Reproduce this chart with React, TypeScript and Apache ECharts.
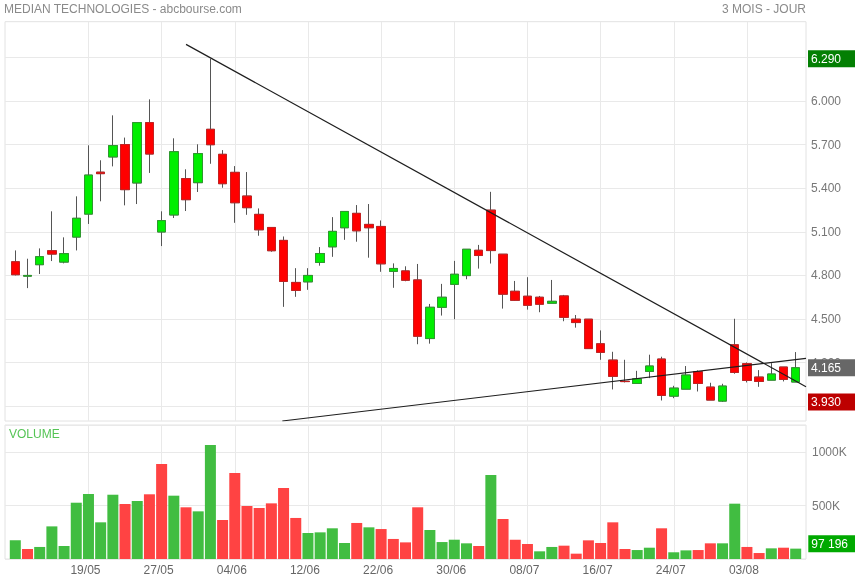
import React, { useEffect, useRef } from 'react';
import * as echarts from 'echarts';

const dates = [
  '11/05', '12/05', '13/05', '14/05', '15/05', '18/05', '19/05', '20/05', '21/05', '22/05', '25/05', '26/05', '27/05', '28/05', '29/05',
  '01/06', '02/06', '03/06', '04/06', '05/06', '08/06', '09/06', '10/06', '11/06', '12/06', '15/06', '16/06', '17/06', '18/06', '19/06', '22/06', '23/06', '24/06', '25/06', '26/06', '29/06', '30/06',
  '01/07', '02/07', '03/07', '06/07', '07/07', '08/07', '09/07', '10/07', '13/07', '14/07', '15/07', '16/07', '17/07', '20/07', '21/07', '22/07', '23/07', '24/07', '27/07', '28/07', '29/07', '30/07', '31/07',
  '03/08', '04/08', '05/08', '06/08', '07/08',
];

const opens = [
  4.894, 4.795, 4.874, 4.970, 4.892, 5.064, 5.222, 5.510, 5.615, 5.700, 5.436, 5.851, 5.099, 5.216, 5.466, 5.438,
  5.805, 5.633, 5.509, 5.346, 5.220, 5.130, 5.041, 4.752, 4.756, 4.889, 4.997, 5.128, 5.227, 5.151, 5.137, 4.828,
  4.831, 4.769, 4.366, 4.581, 4.739, 4.799, 4.973, 5.249, 4.946, 4.691, 4.657, 4.650, 4.609, 4.659, 4.499, 4.499,
  4.330, 4.218, 4.072, 4.057, 4.140, 4.225, 3.970, 4.018, 4.138, 4.032, 3.936, 4.323, 4.193, 4.101, 4.080, 4.170, 4.067,
];
const closes = [
  4.805, 4.800, 4.929, 4.947, 4.950, 5.193, 5.490, 5.500, 5.693, 5.390, 5.851, 5.635, 5.177, 5.651, 5.321, 5.638,
  5.699, 5.431, 5.300, 5.266, 5.114, 4.970, 4.759, 4.697, 4.800, 4.951, 5.103, 5.240, 5.107, 5.128, 4.880, 4.848,
  4.767, 4.382, 4.581, 4.650, 4.808, 4.980, 4.937, 4.971, 4.671, 4.629, 4.595, 4.602, 4.622, 4.512, 4.476, 4.297,
  4.271, 4.106, 4.070, 4.089, 4.177, 3.975, 4.025, 4.115, 4.057, 3.943, 4.039, 4.133, 4.078, 4.071, 4.122, 4.085, 4.165,
];
const lows = [
  4.800, 4.713, 4.810, 4.899, 4.883, 4.972, 5.154, 5.310, 5.550, 5.282, 5.291, 5.505, 5.002, 5.195, 5.243, 5.374,
  5.568, 5.403, 5.162, 5.217, 5.073, 4.963, 4.584, 4.653, 4.701, 4.867, 4.928, 5.045, 5.032, 4.922, 4.825, 4.715,
  4.760, 4.327, 4.331, 4.524, 4.499, 4.774, 4.847, 4.882, 4.572, 4.625, 4.565, 4.547, 4.609, 4.485, 4.441, 4.297,
  4.220, 4.016, 4.064, 4.057, 4.094, 3.940, 3.956, 4.018, 4.002, 3.943, 3.930, 4.124, 4.064, 4.034, 4.080, 4.071, 4.067,
];
const highs = [
  4.972, 4.915, 4.986, 5.241, 5.062, 5.344, 5.695, 5.592, 5.901, 5.748, 5.851, 6.011, 5.241, 5.743, 5.530, 5.702,
  6.290, 5.662, 5.552, 5.511, 5.261, 5.130, 5.068, 4.850, 4.850, 4.995, 5.201, 5.240, 5.284, 5.291, 5.178, 4.883,
  4.863, 4.879, 4.604, 4.742, 4.900, 4.980, 5.010, 5.375, 4.946, 4.762, 4.788, 4.659, 4.769, 4.666, 4.528, 4.499,
  4.422, 4.275, 4.220, 4.144, 4.255, 4.241, 4.041, 4.177, 4.147, 4.062, 4.055, 4.502, 4.202, 4.149, 4.197, 4.170, 4.273,
];
const volumes = [
  175000, 94000, 113000, 306000, 122000, 528000, 610000, 344000, 603000, 516000, 544000, 607000, 891000, 594000, 485000, 447000,
  1069000, 366000, 807000, 497000, 478000, 522000, 666000, 385000, 244000, 250000, 288000, 150000, 338000, 297000, 281000, 188000,
  156000, 485000, 272000, 159000, 181000, 147000, 122000, 788000, 375000, 181000, 141000, 72000, 113000, 125000, 50000, 175000,
  150000, 344000, 94000, 84000, 106000, 288000, 63000, 81000, 84000, 147000, 147000, 519000, 113000, 56000, 100000, 106000, 97196,
];

// trend lines in (candle index, price)
const trendUpper = [[14.0, 6.389], [64.845, 4.035]];
const trendLower = [[21.9, 3.799], [64.845, 4.23]];

// axis ranges
const PRICE_MIN = 3.799;
const PRICE_MAX = 6.545;
const PRICE_TICK_MIN = 3.9;
const PRICE_TICK_MAX = 6.3;
const PRICE_STEP = 0.3;
const VOL_MAX = 1257000;
const VOL_STEP = 500000;
const IDX_MIN = -0.845;
const IDX_MAX = 64.845;

const FONT = "'Liberation Sans', Arial, Helvetica, sans-serif";
const GRID_LINE = '#e9e9e9';
const FRAME = '#e2e2e2';

const labelInterval = (i: number) => i > 0 && i % 6 === 0;
const fmtSpace = (v: number) => String(Math.round(v)).replace(/\B(?=(\d{3})+(?!\d))/g, ' ');

export default function App() {
  const ref = useRef<HTMLDivElement>(null);

  useEffect(() => {
    if (!ref.current) return;
    const chart = echarts.init(ref.current, null, { renderer: 'svg' });

    const wickData = dates.map((_, i) => [opens[i], closes[i], lows[i], highs[i]]);
    const bodyData = dates.map((_, i) => [
      opens[i], closes[i], Math.min(opens[i], closes[i]), Math.max(opens[i], closes[i]),
    ]);
    const volData = volumes.map((v, i) => ({
      value: v,
      itemStyle: { color: i === 0 || closes[i] >= closes[i - 1] ? '#41bd41' : '#ff4343' },
    }));
    const maxHigh = Math.max(...highs);
    const minLow = Math.min(...lows);
    const lastClose = closes[closes.length - 1];
    const lastVol = volumes[volumes.length - 1];

    const tagLabel = {
      show: true,
      position: 'end',
      distance: 2,
      color: '#fff',
      opacity: 1,
      fontSize: 12,
      fontFamily: FONT,
      padding: [2, 0, 2, 3],
      width: 44,
      lineHeight: 13,
    };
    const hiddenLine = { color: 'rgba(0,0,0,0)', width: 0, opacity: 1 };

    const option: any = {
      animation: false,
      textStyle: { fontFamily: FONT },
      graphic: [
        { type: 'text', left: 4, top: 3, style: { text: 'MEDIAN TECHNOLOGIES - abcbourse.com', fontSize: 12, fill: '#8a8a8a', fontFamily: FONT } },
        { type: 'text', right: 49, top: 3, style: { text: '3 MOIS - JOUR', fontSize: 12, fill: '#8a8a8a', fontFamily: FONT } },
        { type: 'text', left: 9, top: 428, z: 10, style: { text: 'VOLUME', fontSize: 12, fill: '#55c455', fontFamily: FONT } },
      ],
      grid: [
        { left: 5, right: 49, top: 21.7, bottom: 159, show: true, borderColor: FRAME, borderWidth: 1, backgroundColor: 'transparent' },
        { left: 5, right: 49, top: 57.3, bottom: 173.7 },
        { left: 15.3, right: 59.3, top: 21.7, bottom: 159 },
        { left: 5, right: 49, top: 425, bottom: 21, show: true, borderColor: FRAME, borderWidth: 1, backgroundColor: 'transparent' },
        { left: 15.3, right: 59.3, top: 425, bottom: 21 },
      ],
      xAxis: [
        { gridIndex: 0, type: 'value', min: IDX_MIN, max: IDX_MAX, show: false },
        { gridIndex: 1, type: 'value', min: 0, max: 1, show: false },
        {
          gridIndex: 2, type: 'category', data: dates, boundaryGap: false,
          axisLine: { show: false }, axisTick: { show: false }, axisLabel: { show: false },
          splitLine: { show: true, interval: labelInterval, lineStyle: { color: GRID_LINE, width: 1 } },
        },
        { gridIndex: 3, type: 'value', min: 0, max: 1, show: false },
        {
          gridIndex: 4, type: 'category', data: dates, boundaryGap: false,
          axisLine: { show: false }, axisTick: { show: false },
          axisLabel: { interval: labelInterval, color: '#666', fontSize: 12, margin: 5, padding: [0, 6, 0, 0], fontFamily: FONT },
          splitLine: { show: true, interval: labelInterval, lineStyle: { color: GRID_LINE, width: 1 } },
        },
      ],
      yAxis: [
        { gridIndex: 0, type: 'value', min: PRICE_MIN, max: PRICE_MAX, show: false },
        {
          gridIndex: 1, type: 'value', min: PRICE_TICK_MIN, max: PRICE_TICK_MAX, interval: PRICE_STEP, position: 'right',
          axisLine: { show: false }, axisTick: { show: false },
          axisLabel: { color: '#777', fontSize: 12, margin: 5, fontFamily: FONT, formatter: (v: number) => v.toFixed(3) },
          splitLine: { show: true, lineStyle: { color: GRID_LINE, width: 1 } },
        },
        { gridIndex: 2, type: 'value', min: PRICE_MIN, max: PRICE_MAX, show: false },
        {
          gridIndex: 3, type: 'value', min: 0, max: VOL_MAX, interval: VOL_STEP, position: 'right',
          axisLine: { show: false }, axisTick: { show: false },
          axisLabel: {
            color: '#777', fontSize: 12, margin: 6, fontFamily: FONT,
            formatter: (v: number) => (v > 0 && v % VOL_STEP === 0 ? v / 1000 + 'K' : ''),
          },
          splitLine: { show: true, lineStyle: { color: GRID_LINE, width: 1 } },
        },
        { gridIndex: 4, type: 'value', min: 0, max: VOL_MAX, show: false },
      ],
      series: [
        {
          type: 'line', xAxisIndex: 0, yAxisIndex: 0, data: trendUpper, symbol: 'none', silent: true, z: 4,
          lineStyle: { color: '#1e1e1e', width: 1.2 },
          markLine: {
            silent: true, symbol: ['none', 'none'], lineStyle: hiddenLine, z: 10, precision: 3,
            label: { ...tagLabel, formatter: (p: any) => Number(p.value).toFixed(3) },
            data: [
              { yAxis: maxHigh, label: { backgroundColor: '#037f03' } },
              { yAxis: lastClose, label: { backgroundColor: '#676767' } },
              { yAxis: minLow, label: { backgroundColor: '#bd0000' } },
            ],
          },
        },
        {
          type: 'line', xAxisIndex: 0, yAxisIndex: 0, data: trendLower, symbol: 'none', silent: true, z: 4,
          lineStyle: { color: '#1e1e1e', width: 1.2 },
        },
        {
          type: 'candlestick', xAxisIndex: 2, yAxisIndex: 2, data: wickData, barWidth: 9, clip: false, silent: true, z: 2,
          itemStyle: { color: 'transparent', color0: 'transparent', borderColor: '#555', borderColor0: '#555', borderWidth: 1 },
        },
        {
          type: 'candlestick', xAxisIndex: 2, yAxisIndex: 2, data: bodyData, barWidth: 9, clip: false, silent: true, z: 3,
          itemStyle: { color: '#00ee00', color0: '#ff0000', borderColor: '#2e9a2e', borderColor0: '#c62020', borderWidth: 1 },
        },
        {
          type: 'bar', xAxisIndex: 4, yAxisIndex: 4, data: volData, barWidth: 11, clip: false, silent: true,
          markLine: {
            silent: true, symbol: ['none', 'none'], lineStyle: hiddenLine, z: 10, precision: 0,
            label: { ...tagLabel, distance: 12.6, offset: [0, -5], formatter: (p: any) => fmtSpace(Number(p.value)) },
            data: [{ yAxis: lastVol, label: { backgroundColor: '#00a900' } }],
          },
        },
      ],
    };

    chart.setOption(option);
    return () => chart.dispose();
  }, []);

  return <div ref={ref} style={{ position: 'fixed', left: 0, top: 0, width: 855, height: 580 }} />;
}
